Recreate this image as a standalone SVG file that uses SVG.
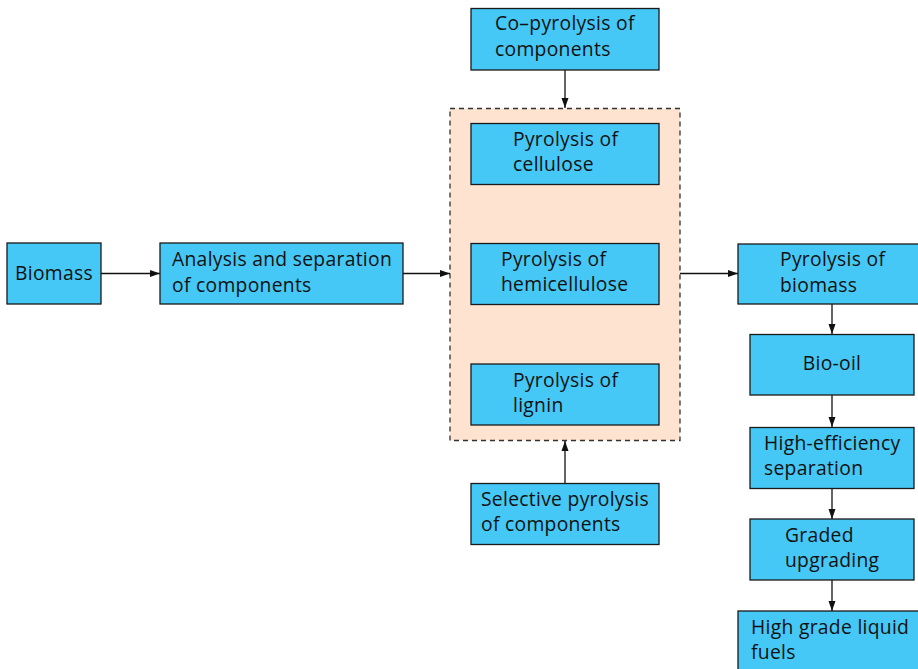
<svg xmlns="http://www.w3.org/2000/svg" width="918" height="669" viewBox="0 0 918 669">
  <style>
    .box { fill: #45c8f5; stroke: #1a1a1a; stroke-width: 1.3; }
    .group { fill: #fde3d0; stroke: #333333; stroke-width: 1.3; stroke-dasharray: 5 4; }
    .lbl { font-family: "Open Sans", "Noto Sans", sans-serif; font-size: 19.3px; letter-spacing: 0.3px; fill: #111111; }
    .edge { stroke: #111111; stroke-width: 1.3; fill: none; marker-end: url(#arrow); }
  </style>
  <defs>
    <marker id="arrow" viewBox="0 0 10 10" refX="10" refY="5" markerWidth="10" markerHeight="10" markerUnits="userSpaceOnUse" orient="auto">
      <path d="M0,1.5 L10,5 L0,8.5 Z" fill="#111111"/>
    </marker>
  </defs>
  <rect width="918" height="669" fill="#ffffff"/>

  <!-- component pyrolysis group -->
  <g id="component-group">
    <rect class="group" x="450" y="108.5" width="230" height="332"/>
  </g>

  <g id="connectors">
    <line class="edge" x1="101" y1="273.5" x2="160" y2="273.5"/>
    <line class="edge" x1="403" y1="273.5" x2="450" y2="273.5"/>
    <line class="edge" x1="565" y1="70" x2="565" y2="108"/>
    <line class="edge" x1="565" y1="483" x2="565" y2="441"/>
    <line class="edge" x1="680" y1="273.5" x2="738" y2="273.5"/>
    <line class="edge" x1="832" y1="304" x2="832" y2="334"/>
    <line class="edge" x1="832" y1="395" x2="832" y2="427"/>
    <line class="edge" x1="832" y1="488" x2="832" y2="519"/>
    <line class="edge" x1="832" y1="580" x2="832" y2="611"/>
  </g>

  <g id="biomass">
    <rect class="box" x="7" y="243" width="94" height="61"/>
    <text class="lbl" x="15" y="280">Biomass</text>
  </g>

  <g id="analysis">
    <rect class="box" x="160" y="243" width="243" height="61"/>
    <text class="lbl" x="172" y="266">Analysis and separation</text>
    <text class="lbl" x="172" y="292">of components</text>
  </g>

  <g id="co-pyrolysis">
    <rect class="box" x="471" y="8.5" width="188" height="61.5"/>
    <text class="lbl" x="495" y="30">Co–pyrolysis of</text>
    <text class="lbl" x="495" y="56">components</text>
  </g>

  <g id="cellulose">
    <rect class="box" x="471" y="123.5" width="188" height="61"/>
    <text class="lbl" x="513" y="146">Pyrolysis of</text>
    <text class="lbl" x="513" y="171">cellulose</text>
  </g>

  <g id="hemicellulose">
    <rect class="box" x="471" y="243.5" width="188" height="61"/>
    <text class="lbl" x="501" y="266">Pyrolysis of</text>
    <text class="lbl" x="501" y="291">hemicellulose</text>
  </g>

  <g id="lignin">
    <rect class="box" x="471" y="364" width="188" height="61"/>
    <text class="lbl" x="513" y="387">Pyrolysis of</text>
    <text class="lbl" x="513" y="412">lignin</text>
  </g>

  <g id="selective">
    <rect class="box" x="471" y="483.5" width="188" height="61"/>
    <text class="lbl" x="481" y="506">Selective pyrolysis</text>
    <text class="lbl" x="481" y="531">of components</text>
  </g>

  <g id="pyrolysis-biomass">
    <rect class="box" x="738" y="244" width="190" height="60"/>
    <text class="lbl" x="780" y="266">Pyrolysis of</text>
    <text class="lbl" x="780" y="292">biomass</text>
  </g>

  <g id="bio-oil">
    <rect class="box" x="750" y="334.5" width="164" height="60.5"/>
    <text class="lbl" x="832" y="369.5" text-anchor="middle">Bio-oil</text>
  </g>

  <g id="separation">
    <rect class="box" x="750" y="427.5" width="164" height="61"/>
    <text class="lbl" x="764" y="450">High-efficiency</text>
    <text class="lbl" x="764" y="475">separation</text>
  </g>

  <g id="upgrading">
    <rect class="box" x="750" y="519" width="164" height="61"/>
    <text class="lbl" x="785" y="542">Graded</text>
    <text class="lbl" x="785" y="567">upgrading</text>
  </g>

  <g id="fuels">
    <rect class="box" x="738" y="611" width="190" height="70"/>
    <text class="lbl" x="751" y="633.5">High grade liquid</text>
    <text class="lbl" x="751" y="658.5">fuels</text>
  </g>
</svg>
